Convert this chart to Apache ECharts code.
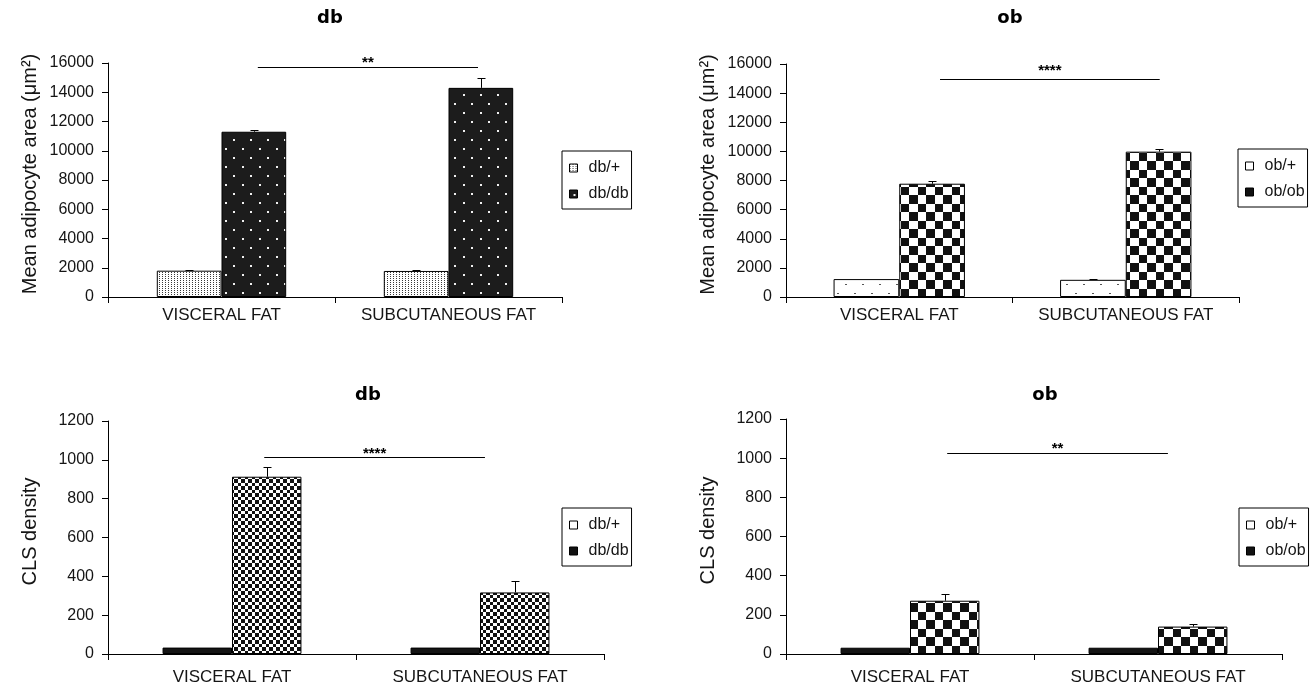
<!DOCTYPE html>
<html><head><meta charset="utf-8">
<script src="https://cdn.jsdelivr.net/npm/echarts@6/dist/echarts.min.js"></script>
<style>html,body{margin:0;padding:0;background:#fff}#c{width:1312px;height:689px}</style>
</head><body><div id="c"></div>
<script>
// ---------- DATA ----------
const categories = ['VISCERAL FAT', 'SUBCUTANEOUS FAT'];

// Panel 1: db, mean adipocyte area
const p1Names = ['db/+', 'db/db'];
const p1Het = [1800, 1780];
const p1Hom = [11300, 14300];
const p1HetErr = [60, 60];
const p1HomErr = [90, 650];
const p1Sig = { value: 15700, label: '**', from: 0.16, to: 1.13 };

// Panel 2: ob, mean adipocyte area
const p2Names = ['ob/+', 'ob/ob'];
const p2Het = [1230, 1180];
const p2Hom = [7780, 9980];
const p2HetErr = [0, 40];
const p2HomErr = [180, 180];
const p2Sig = { value: 15000, label: '****', from: 0.18, to: 1.15 };

// Panel 3: db, CLS density
const p3Names = ['db/+', 'db/db'];
const p3Het = [33, 33];
const p3Hom = [913, 317];
const p3HetErr = [0, 0];
const p3HomErr = [50, 57];
const p3Sig = { value: 1015, label: '****', from: 0.13, to: 1.02 };

// Panel 4: ob, CLS density
const p4Names = ['ob/+', 'ob/ob'];
const p4Het = [32, 32];
const p4Hom = [272, 140];
const p4HetErr = [0, 0];
const p4HomErr = [35, 15];
const p4Sig = { value: 1025, label: '**', from: 0.15, to: 1.04 };

const titles = ['db', 'ob', 'db', 'ob'];
const yNames = ['Mean adipocyte area (\u03bcm\u00b2)', 'Mean adipocyte area (\u03bcm\u00b2)', 'CLS density', 'CLS density'];
const yMax = [16000, 16000, 1200, 1200];
const yInterval = [2000, 2000, 200, 200];

// ---------- PATTERNS ----------
function makePattern(w, h, bg, draw) {
  const c = document.createElement('canvas');
  c.width = w; c.height = h;
  const ctx = c.getContext('2d');
  ctx.fillStyle = bg; ctx.fillRect(0, 0, w, h);
  draw(ctx);
  return { image: c, repeat: 'repeat' };
}
const stipple = makePattern(3, 2, '#ffffff', ctx => { ctx.fillStyle = '#3a3a3a'; ctx.fillRect(0, 0, 1, 1); });
const dotsOnBlack = makePattern(17, 18, '#1c1c1c', ctx => { ctx.fillStyle = '#f0f0f0'; ctx.fillRect(4, 4, 2, 2); ctx.fillRect(12, 13, 2, 2); });
const dotsOnWhite = makePattern(17, 18, '#ffffff', ctx => { ctx.fillStyle = '#555'; ctx.fillRect(4, 5, 2, 1); ctx.fillRect(12, 14, 2, 1); });
const checker = makePattern(17, 17, '#ffffff', ctx => { ctx.fillStyle = '#111'; ctx.fillRect(0, 0, 8, 8); ctx.fillRect(8, 8, 9, 9); });
const fineChecker = makePattern(7, 7, '#ffffff', ctx => { ctx.fillStyle = '#111'; ctx.fillRect(0, 0, 3, 3); ctx.fillRect(3, 3, 4, 4); });
const solid = '#141414';

const panels = [
  { names: p1Names, het: p1Het, hom: p1Hom, hetErr: p1HetErr, homErr: p1HomErr, sig: p1Sig,
    hetFill: stipple, homFill: dotsOnBlack, legHet: stipple, legHom: dotsOnBlack,
    grid: { left: 108, top: 63, width: 454, height: 234 }, gap: 0.43, xMargin: 10, nameGap: 68,
    legend: { left: 562, top: 151 }, title: [330, 18], starLift: 5 },
  { names: p2Names, het: p2Het, hom: p2Hom, hetErr: p2HetErr, homErr: p2HomErr, sig: p2Sig,
    hetFill: dotsOnWhite, homFill: checker, legHet: '#ffffff', legHom: checker,
    grid: { left: 786, top: 64, width: 453, height: 233 }, gap: 0.42, xMargin: 10, nameGap: 68,
    legend: { left: 1238, top: 149 }, title: [1010, 18], starLift: 9 },
  { names: p3Names, het: p3Het, hom: p3Hom, hetErr: p3HetErr, homErr: p3HomErr, sig: p3Sig,
    hetFill: solid, homFill: fineChecker, legHet: '#ffffff', legHom: checker,
    grid: { left: 108, top: 421, width: 496, height: 233 }, gap: 0.44, xMargin: 15, nameGap: 68,
    legend: { left: 562, top: 508 }, title: [368, 395], starLift: 4 },
  { names: p4Names, het: p4Het, hom: p4Hom, hetErr: p4HetErr, homErr: p4HomErr, sig: p4Sig,
    hetFill: solid, homFill: checker, legHet: '#ffffff', legHom: checker,
    grid: { left: 786, top: 419, width: 496, height: 235 }, gap: 0.44, xMargin: 15, nameGap: 68,
    legend: { left: 1239, top: 508 }, title: [1045, 395], starLift: 5 }
];

const FONT = '"Liberation Sans", Arial, sans-serif';
const TXT = '#151515';

function errRender(gap) {
  return function (params, api) {
    const cat = api.value(0), s = api.value(1), v = api.value(2), e = api.value(3);
    if (!e) return null;
    const band = api.size([1, 0])[0];
    const bw = band * (1 - gap) / 2;
    const base = api.coord([cat, v]);
    const top = api.coord([cat, v + e]);
    const x = Math.round(base[0] + (s === 0 ? -bw / 2 : bw / 2)) + 0.5;
    const yt = Math.round(top[1]) + 0.5;
    return { type: 'group', children: [
      { type: 'line', shape: { x1: x, y1: base[1], x2: x, y2: yt }, style: { stroke: '#000', lineWidth: 1 } },
      { type: 'line', shape: { x1: x - 4, y1: yt, x2: x + 4, y2: yt }, style: { stroke: '#000', lineWidth: 1 } }
    ] };
  };
}
function sigRender(sig, lift) {
  return function (params, api) {
    const v = api.value(1);
    const p = api.coord([0, v]);
    const band = api.size([1, 0])[0];
    const x1 = p[0] + sig.from * band, x2 = p[0] + sig.to * band;
    const y = Math.round(p[1]) + 0.5;
    return { type: 'group', children: [
      { type: 'line', shape: { x1: x1, y1: y, x2: x2, y2: y }, style: { stroke: '#000', lineWidth: 1 } },
      { type: 'text', x: (x1 + x2) / 2, y: y - lift, style: { text: sig.label, fill: '#000', font: 'bold 15px ' + FONT, align: 'center', verticalAlign: 'middle' } }
    ] };
  };
}

const grid = [], xAxis = [], yAxis = [], series = [], legend = [], graphic = [];
panels.forEach((pn, i) => {
  grid.push(Object.assign({ containLabel: false }, pn.grid));
  xAxis.push({
    type: 'category', gridIndex: i, data: categories,
    axisLine: { lineStyle: { color: '#000', width: 1 } },
    axisTick: { show: true, length: 6, interval: 0, alignWithLabel: false, lineStyle: { color: '#000' } },
    axisLabel: { interval: 0, fontSize: 17, fontFamily: FONT, color: TXT, margin: pn.xMargin },
    splitLine: { show: false }
  });
  yAxis.push({
    type: 'value', gridIndex: i, min: 0, max: yMax[i], interval: yInterval[i],
    name: yNames[i], nameLocation: 'middle', nameGap: pn.nameGap,
    nameTextStyle: { fontSize: 20, fontFamily: FONT, color: TXT, padding: [0, 0, 0, 12] },
    axisLine: { show: true, lineStyle: { color: '#000', width: 1 } },
    axisTick: { show: true, length: 6, lineStyle: { color: '#000' } },
    axisLabel: { fontSize: 16, fontFamily: FONT, color: TXT, margin: 14, formatter: v => String(v) },
    splitLine: { show: false }
  });
  const gapPct = Math.round(pn.gap * 100) + '%';
  series.push({
    type: 'bar', name: pn.names[0], xAxisIndex: i, yAxisIndex: i, data: pn.het,
    barGap: '0%', barCategoryGap: gapPct,
    itemStyle: { color: pn.hetFill, borderColor: '#000', borderWidth: 1 }, animation: false
  });
  series.push({
    type: 'bar', name: pn.names[1], xAxisIndex: i, yAxisIndex: i, data: pn.hom,
    barGap: '0%', barCategoryGap: gapPct,
    itemStyle: { color: pn.homFill, borderColor: '#000', borderWidth: 1 }, animation: false
  });
  const errData = [];
  categories.forEach((c, k) => {
    errData.push([k, 0, pn.het[k], pn.hetErr[k]]);
    errData.push([k, 1, pn.hom[k], pn.homErr[k]]);
  });
  series.push({
    type: 'custom', xAxisIndex: i, yAxisIndex: i, data: errData, encode: { x: 0, y: 2 },
    renderItem: errRender(pn.gap), z: 5, animation: false, silent: true
  });
  series.push({
    type: 'custom', xAxisIndex: i, yAxisIndex: i, data: [[0, pn.sig.value]], encode: { x: 0, y: 1 },
    renderItem: sigRender(pn.sig, pn.starLift), z: 5, animation: false, silent: true
  });
  legend.push({
    orient: 'vertical', left: pn.legend.left, top: pn.legend.top,
    padding: [9, 3, 7, 7], itemGap: 10, itemWidth: 8, itemHeight: 8,
    borderColor: '#000', borderWidth: 1, backgroundColor: '#fff',
    icon: 'rect', selectedMode: false,
    textStyle: { fontSize: 16, fontFamily: FONT, color: TXT, lineHeight: 16, padding: [0, 0, 0, 6] },
    data: [
      { name: pn.names[0], icon: 'rect', itemStyle: { color: pn.legHet, borderColor: '#000', borderWidth: 1 } },
      { name: pn.names[1], icon: 'rect', itemStyle: { color: pn.legHom, borderColor: '#000', borderWidth: 1 } }
    ]
  });
  graphic.push({
    type: 'text', x: pn.title[0], y: pn.title[1],
    style: { text: titles[i], font: 'bold 18px "DejaVu Sans", sans-serif', fill: '#000', align: 'center', verticalAlign: 'middle' }
  });
});

const chart = echarts.init(document.getElementById('c'), null, { renderer: 'canvas' });
chart.setOption({
  backgroundColor: '#fff', animation: false,
  grid, xAxis, yAxis, series, legend, graphic
});
</script></body></html>
